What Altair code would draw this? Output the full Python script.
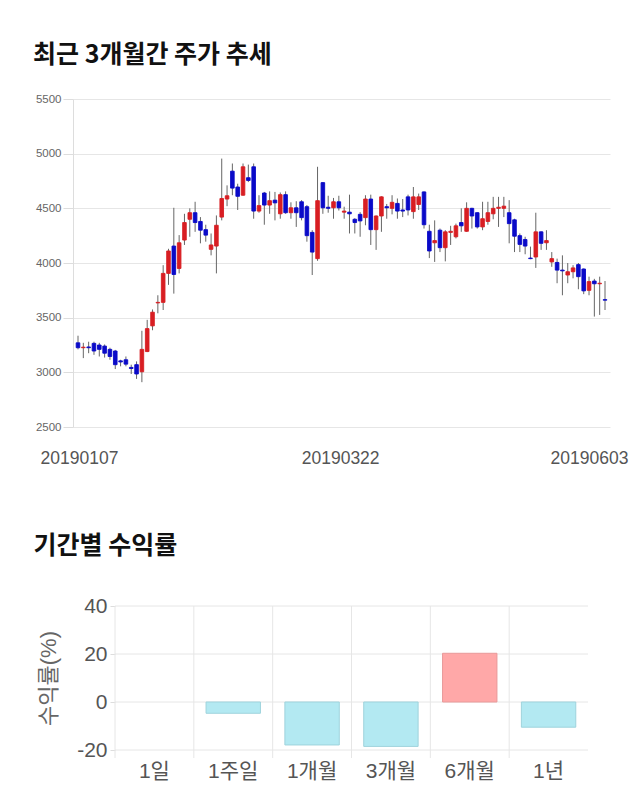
import altair as alt
import pandas as pd

# ---- candlestick data (trading-day index 0..99) ----
opens  = [3270,3225,3232,3265,3250,3240,3210,3195,3105,3115,
          3045,3070,3005,3190,3425,3635,3640,3905,4155,3950,
          4210,4400,4460,4380,4305,4125,4155,4420,4585,4840,
          4695,4620,4780,4880,4475,4640,4530,4575,4450,4625,
          4460,4505,4560,4515,4280,4040,4735,4510,4505,4560,
          4465,4465,4400,4445,4415,4585,4305,4430,4515,4500,
          4545,4485,4605,4470,4535,4650,4290,4185,4300,4140,
          4280,4240,4370,4290,4500,4460,4330,4380,4450,4500,
          4500,4460,4395,4250,4215,4045,4055,4285,4185,4010,
          4005,3935,3890,3920,3985,3945,3750,3835,3810,3665]
closes = [3225,3230,3225,3195,3210,3175,3145,3070,3095,3075,
          3035,2985,3210,3400,3550,3640,3905,4110,3895,4185,
          4370,4460,4370,4300,4255,4165,4345,4590,4615,4685,
          4610,4880,4755,4475,4525,4530,4570,4550,4625,4460,
          4505,4460,4415,4250,4100,4570,4505,4500,4560,4505,
          4475,4450,4370,4385,4585,4305,4430,4605,4505,4555,
          4475,4475,4485,4605,4605,4350,4110,4205,4140,4285,
          4290,4340,4340,4500,4430,4330,4405,4460,4500,4510,
          4520,4360,4245,4170,4155,4040,4285,4180,4205,4040,
          3935,3928,3920,3955,3875,3745,3830,3810,3815,3660]
highs  = [3335,3270,3280,3280,3270,3255,3225,3205,3115,3145,
          3070,3100,3380,3480,3575,3705,3980,4130,4505,4255,
          4450,4500,4560,4420,4350,4270,4435,4955,4710,4910,
          4725,4910,4900,4910,4620,4650,4655,4650,4645,4655,
          4555,4565,4575,4530,4300,4880,4740,4615,4595,4615,
          4515,4625,4410,4465,4620,4625,4435,4610,4540,4620,
          4590,4585,4625,4695,4635,4655,4350,4390,4315,4300,
          4340,4360,4500,4555,4505,4465,4560,4560,4605,4605,
          4605,4575,4405,4270,4240,4150,4460,4290,4300,4100,
          4040,4070,4000,3980,4000,3950,3875,3855,3875,3835]
lows   = [3210,3130,3175,3160,3145,3135,3115,3030,3055,3055,
          2985,2940,2910,3185,3385,3540,3570,3800,3720,3905,
          4165,4240,4285,4180,4195,4070,3905,4390,4520,4620,
          4485,4615,4740,4405,4460,4350,4450,4390,4405,4450,
          4405,4330,4390,4195,3890,4020,4450,4460,4405,4480,
          4405,4270,4270,4240,4345,4165,4120,4285,4405,4445,
          4405,4420,4435,4405,4485,4315,4045,4010,4100,4015,
          4165,4225,4285,4285,4315,4315,4300,4350,4400,4330,
          4420,4180,4100,4100,4080,4035,3955,4120,4120,3965,
          3815,3705,3815,3860,3760,3715,3705,3510,3525,3570]
price_ticks = [2500, 3000, 3500, 4000, 4500, 5000, 5500]
tick_index  = [0, 50, 99]
tick_labels = ["20190107", "20190322", "20190603"]
tick_shift  = [1, -4, -16]

# ---- period return data ----
periods = ["1일", "1주일", "1개월", "3개월", "6개월", "1년"]
returns = [0.0, -4.7, -17.9, -18.5, 20.3, -10.5]
return_ticks = [-20, 0, 20, 40]

TITLE1 = "최근 3개월간 주가 추세"
TITLE2 = "기간별 수익률"
UP, DOWN = "#d81e23", "#0a0ac8"
FONT = "'Liberation Sans', 'Noto Sans CJK KR', sans-serif"
TFONT = "'Noto Sans CJK KR', sans-serif"
GRID = "#e6e6e6"

# plot area: one frame holding both panels
W, H = 537, 651
TOP_H = 328                 # price panel height
BOT_Y0, BOT_Y1 = 507, 651   # return panel vertical range inside the frame
BOT_X0, BOT_X1 = 42, 515    # return panel horizontal range inside the frame

candles = pd.DataFrame({
    "idx": list(range(len(opens))),
    "open": opens, "close": closes, "high": highs, "low": lows,
})
candles["up"] = candles["close"] >= candles["open"]

label_expr = "''"
for i, l in reversed(list(zip(tick_index, tick_labels))):
    label_expr = f"datum.value == {i} ? '{l}' : ({label_expr})"
offset_expr = "0"
for i, s in reversed(list(zip(tick_index, tick_shift))):
    offset_expr = f"datum.value == {i} ? {s} : ({offset_expr})"

xscale_t = alt.Scale(domain=[0, len(opens) - 1], range=[0, W], nice=False, zero=False)
xaxis_t = alt.Axis(values=tick_index, labelExpr=label_expr, grid=False,
                   orient="bottom", ticks=False, domain=False, labelFontSize=17.5,
                   labelColor="#555", labelPadding=22, labelFont=FONT,
                   labelOffset={"expr": offset_expr}, offset=-(H - TOP_H),
                   title=TITLE2, titleFont=TFONT, titleFontSize=25,
                   titleFontWeight="bold", titleColor="#111",
                   titleX=-40, titleY=118, titleAlign="left",
                   titleBaseline="middle", titleAnchor="start")
yscale_t = alt.Scale(domain=[2500, 5500], range=[TOP_H, 0], nice=False, zero=False)
yaxis_t = alt.Axis(values=price_ticks, format="d", orient="left",
                   labelFontSize=11.5, labelColor="#666", labelFont=FONT,
                   tickColor="#ddd", tickSize=10, labelPadding=2,
                   gridColor=GRID, domainColor="#ddd", title=None)

base = alt.Chart(candles)
wick = base.mark_rule(color="#666", strokeWidth=1).encode(
    x=alt.X("idx:Q", scale=xscale_t, axis=xaxis_t),
    y=alt.Y("low:Q", scale=yscale_t, axis=yaxis_t),
    y2="high:Q",
)
body = base.mark_bar(width=3.6, strokeWidth=0.9, clip=True).encode(
    x=alt.X("idx:Q", scale=xscale_t, axis=xaxis_t),
    y=alt.Y("open:Q", scale=yscale_t, axis=yaxis_t),
    y2="close:Q",
    color=alt.condition("datum.up", alt.value(UP), alt.value(DOWN)),
    stroke=alt.condition("datum.up", alt.value(UP), alt.value(DOWN)),
)
price = alt.layer(wick, body)

# ---- return panel ----
rets = pd.DataFrame({"period": periods, "ret": returns})
rets["pos"] = rets["ret"] > 0
grid_df = pd.DataFrame({"ret": return_ticks})

xscale_b = alt.Scale(domain=periods, range=[BOT_X0, BOT_X1],
                     paddingInner=0, paddingOuter=0)
xaxis_b = alt.Axis(labelAngle=0, ticks=False, grid=False, domain=False,
                   orient="bottom",
                   labelFontSize=21, labelColor="#555", labelFont=FONT,
                   labelPadding=10, title=None)
yscale_b = alt.Scale(domain=[-20, 40], range=[BOT_Y1, BOT_Y0], nice=False)
yaxis_b = alt.Axis(values=return_ticks, orient="left", offset=-BOT_X0,
                   labelExpr="'' + datum.value",
                   labelFontSize=21, labelColor="#555", labelFont=FONT,
                   title="수익률(%)", titleFont=FONT, titleFontSize=22,
                   titleFontWeight="normal", titleColor="#666", titlePadding=16,
                   tickColor="#ddd", tickSize=5, labelPadding=3, domain=False,
                   grid=False)
hgrid = alt.Chart(grid_df).mark_rule(color=GRID, strokeWidth=1).encode(
    y=alt.Y("ret:Q", scale=yscale_b, axis=yaxis_b),
    x=alt.value(BOT_X0), x2=alt.value(BOT_X1),
)
rb = alt.Chart(rets)
sep = rb.mark_rule(color=GRID, strokeWidth=1).encode(
    x=alt.X("period:N", sort=periods, bandPosition=0, scale=xscale_b, axis=xaxis_b),
    y=alt.value(BOT_Y0), y2=alt.value(BOT_Y1 + 8),
)
bars = rb.mark_bar(width=alt.RelativeBandSize(0.69), strokeWidth=1).encode(
    x=alt.X("period:N", sort=periods, scale=xscale_b, axis=xaxis_b),
    y=alt.Y("ret:Q", scale=yscale_b, axis=yaxis_b),
    y2=alt.datum(0),
    color=alt.condition("datum.pos", alt.value("#ffa8a8"), alt.value("#b3e9f2")),
    stroke=alt.condition("datum.pos", alt.value("#e89a9a"), alt.value("#9fd3dc")),
    strokeOpacity=alt.condition("datum.ret == 0", alt.value(0), alt.value(1)),
)
returns_panel = alt.layer(hgrid, sep, bars)

chart = alt.layer(price, returns_panel).resolve_scale(
    x="independent", y="independent"
).resolve_axis(x="independent", y="independent").properties(
    width=W, height=H,
    autosize=alt.AutoSizeParams(type="none"),
    padding={"left": 73, "top": 99, "right": 30, "bottom": 60},
    title=alt.TitleParams(TITLE1, anchor="start", frame="group", dx=-40,
                          fontSize=25, font=TFONT, fontWeight="bold",
                          color="#111", offset=5, baseline="alphabetic"),
).configure(background="white").configure_view(stroke=None)

chart.save("out.html", embed_options={"renderer": "svg", "actions": False})
